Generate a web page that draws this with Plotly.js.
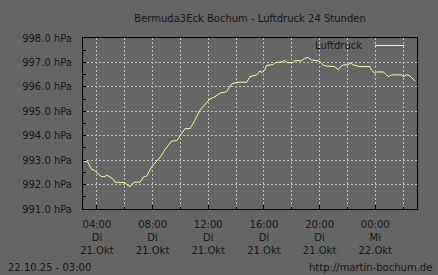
<!DOCTYPE html>
<html>
<head>
<meta charset="utf-8">
<script src="https://cdn.plot.ly/plotly-3.0.1.min.js"></script>
<style>html,body{margin:0;padding:0;background:#656565;}#chart{width:438px;height:275px;}</style>
</head>
<body>
<div id="chart"></div>
<script>
const times = [
"2025-10-21 03:00","2025-10-21 03:19","2025-10-21 03:38","2025-10-21 03:52","2025-10-21 04:06",
"2025-10-21 04:21","2025-10-21 04:35","2025-10-21 04:42","2025-10-21 04:56","2025-10-21 05:11",
"2025-10-21 05:18","2025-10-21 05:40","2025-10-21 06:01","2025-10-21 06:08","2025-10-21 06:23",
"2025-10-21 06:30","2025-10-21 06:37","2025-10-21 06:44","2025-10-21 07:06","2025-10-21 07:13",
"2025-10-21 07:20","2025-10-21 07:35","2025-10-21 07:44","2025-10-21 07:56","2025-10-21 08:10",
"2025-10-21 08:25","2025-10-21 08:39","2025-10-21 08:53","2025-10-21 09:08","2025-10-21 09:22",
"2025-10-21 09:44","2025-10-21 09:58","2025-10-21 10:20","2025-10-21 10:41","2025-10-21 11:03",
"2025-10-21 11:24","2025-10-21 11:46","2025-10-21 12:07","2025-10-21 12:29","2025-10-21 12:50",
"2025-10-21 13:19","2025-10-21 13:41","2025-10-21 14:02","2025-10-21 14:46","2025-10-21 15:00",
"2025-10-21 15:29","2025-10-21 15:43","2025-10-21 15:50","2025-10-21 16:04","2025-10-21 16:12",
"2025-10-21 16:40","2025-10-21 16:48","2025-10-21 17:22","2025-10-21 17:29","2025-10-21 17:40",
"2025-10-21 18:05","2025-10-21 18:12","2025-10-21 18:41","2025-10-21 18:56","2025-10-21 19:10",
"2025-10-21 19:24","2025-10-21 19:39","2025-10-21 19:53","2025-10-21 20:07","2025-10-21 20:14",
"2025-10-21 20:29","2025-10-21 21:05","2025-10-21 21:20","2025-10-21 21:28","2025-10-21 21:42",
"2025-10-21 22:04","2025-10-21 22:11","2025-10-21 22:25","2025-10-21 22:54","2025-10-21 23:37",
"2025-10-21 23:44","2025-10-21 23:59","2025-10-22 00:06","2025-10-22 00:34","2025-10-22 00:49",
"2025-10-22 00:56","2025-10-22 01:11","2025-10-22 01:54","2025-10-22 02:01","2025-10-22 02:15",
"2025-10-22 02:29","2025-10-22 02:37","2025-10-22 02:44","2025-10-22 02:51"
];
const pressure = [
992.97,992.94,992.62,992.57,992.43,
992.32,992.32,992.39,992.32,992.21,
992.10,992.08,992.08,992.00,991.91,
992.00,992.08,992.10,992.10,992.19,
992.30,992.35,992.50,992.73,992.87,
993.03,993.20,993.42,993.62,993.78,
993.80,993.99,994.29,994.29,994.64,
995.05,995.26,995.50,995.60,995.74,
995.80,996.12,996.19,996.19,996.42,
996.49,996.66,996.58,996.69,996.88,
996.91,996.99,997.03,997.10,996.99,
996.99,997.07,997.07,997.17,997.21,
997.10,997.10,997.07,996.99,996.90,
996.85,996.83,996.70,996.80,996.90,
996.90,996.99,996.90,996.83,996.83,
996.69,996.55,996.61,996.61,996.49,
996.42,996.49,996.49,996.42,996.49,
996.45,996.39,996.31,996.24
];
const xTickVals = ["2025-10-21 04:00","2025-10-21 08:00","2025-10-21 12:00","2025-10-21 16:00","2025-10-21 20:00","2025-10-22 00:00"];
const xTickText = ["04:00<br>Di<br>21.Okt","08:00<br>Di<br>21.Okt","12:00<br>Di<br>21.Okt","16:00<br>Di<br>21.Okt","20:00<br>Di<br>21.Okt","00:00<br>Mi<br>22.Okt"];
const titleText = "Bermuda3Eck Bochum - Luftdruck 24 Stunden";
const seriesName = "Luftdruck";
const stampText = "22.10.25 - 03:00";
const siteText = "http://martin-bochum.de";

const bg = "#656565";
const txt = "#151515";
const lineCol = "#ffffa0";
const gridCol = "#c4c4c4";
const fnt = {family: "DejaVu Sans", size: 10, color: txt};

const trace = {
  x: times, y: pressure, type: "scatter", mode: "lines", name: seriesName,
  line: {color: lineCol, width: 1}, showlegend: false, hoverinfo: "skip"
};

const layout = {
  width: 438, height: 275,
  margin: {l: 83, r: 21, t: 38, b: 66, pad: 0},
  paper_bgcolor: bg, plot_bgcolor: bg,
  font: fnt,
  showlegend: false,
  title: {text: titleText, font: fnt, x: 0.5, xref: "paper", y: 1 - 18/275, yref: "container", yanchor: "middle"},
  xaxis: {
    type: "date",
    range: ["2025-10-21 03:00", "2025-10-22 03:00"],
    tickmode: "array", tickvals: xTickVals, ticktext: xTickText,
    ticks: "inside", ticklen: 4, tickcolor: "#000", tickwidth: 1,
    showgrid: true, gridcolor: gridCol, griddash: "2px,2px", gridwidth: 1,
    minor: {dtick: 7200000, tick0: "2025-10-21 04:00", ticks: "inside", ticklen: 2, tickcolor: "#000", showgrid: true, gridcolor: gridCol, griddash: "2px,2px", gridwidth: 1},
    showline: true, linecolor: "#000", linewidth: 1, mirror: true,
    zeroline: false, tickfont: fnt, ticklabelstandoff: 6, fixedrange: true
  },
  yaxis: {
    range: [991, 998], dtick: 1, tick0: 991,
    tickformat: ".1f", ticksuffix: " hPa",
    ticks: "inside", ticklen: 3, tickcolor: "#000",
    minor: {dtick: 0.5, ticks: "inside", ticklen: 3, tickcolor: "#000", showgrid: false},
    showgrid: true, gridcolor: gridCol, griddash: "2px,2px", gridwidth: 1,
    showline: true, linecolor: "#000", linewidth: 1, mirror: true,
    zeroline: false, tickfont: fnt, ticklabelstandoff: 8, fixedrange: true
  },
  annotations: [
    {text: seriesName, xref: "paper", yref: "paper", x: (364-83)/334, y: (209-45.5)/171, xanchor: "right", yanchor: "middle", showarrow: false, font: fnt},
    {text: stampText, xref: "paper", yref: "paper", x: (6-83)/334, y: (209-267)/171, xanchor: "left", yanchor: "middle", showarrow: false, font: fnt},
    {text: siteText, xref: "paper", yref: "paper", x: (434-83)/334, y: (209-267)/171, xanchor: "right", yanchor: "middle", showarrow: false, font: fnt}
  ],
  shapes: [
    {type: "line", xref: "paper", yref: "paper", x0: (375-83)/334, x1: (404-83)/334, y0: (209-45.5)/171, y1: (209-45.5)/171, line: {color: lineCol, width: 1}}
  ]
};

Plotly.newPlot("chart", [trace], layout, {displayModeBar: false, staticPlot: true});
</script>
</body>
</html>
